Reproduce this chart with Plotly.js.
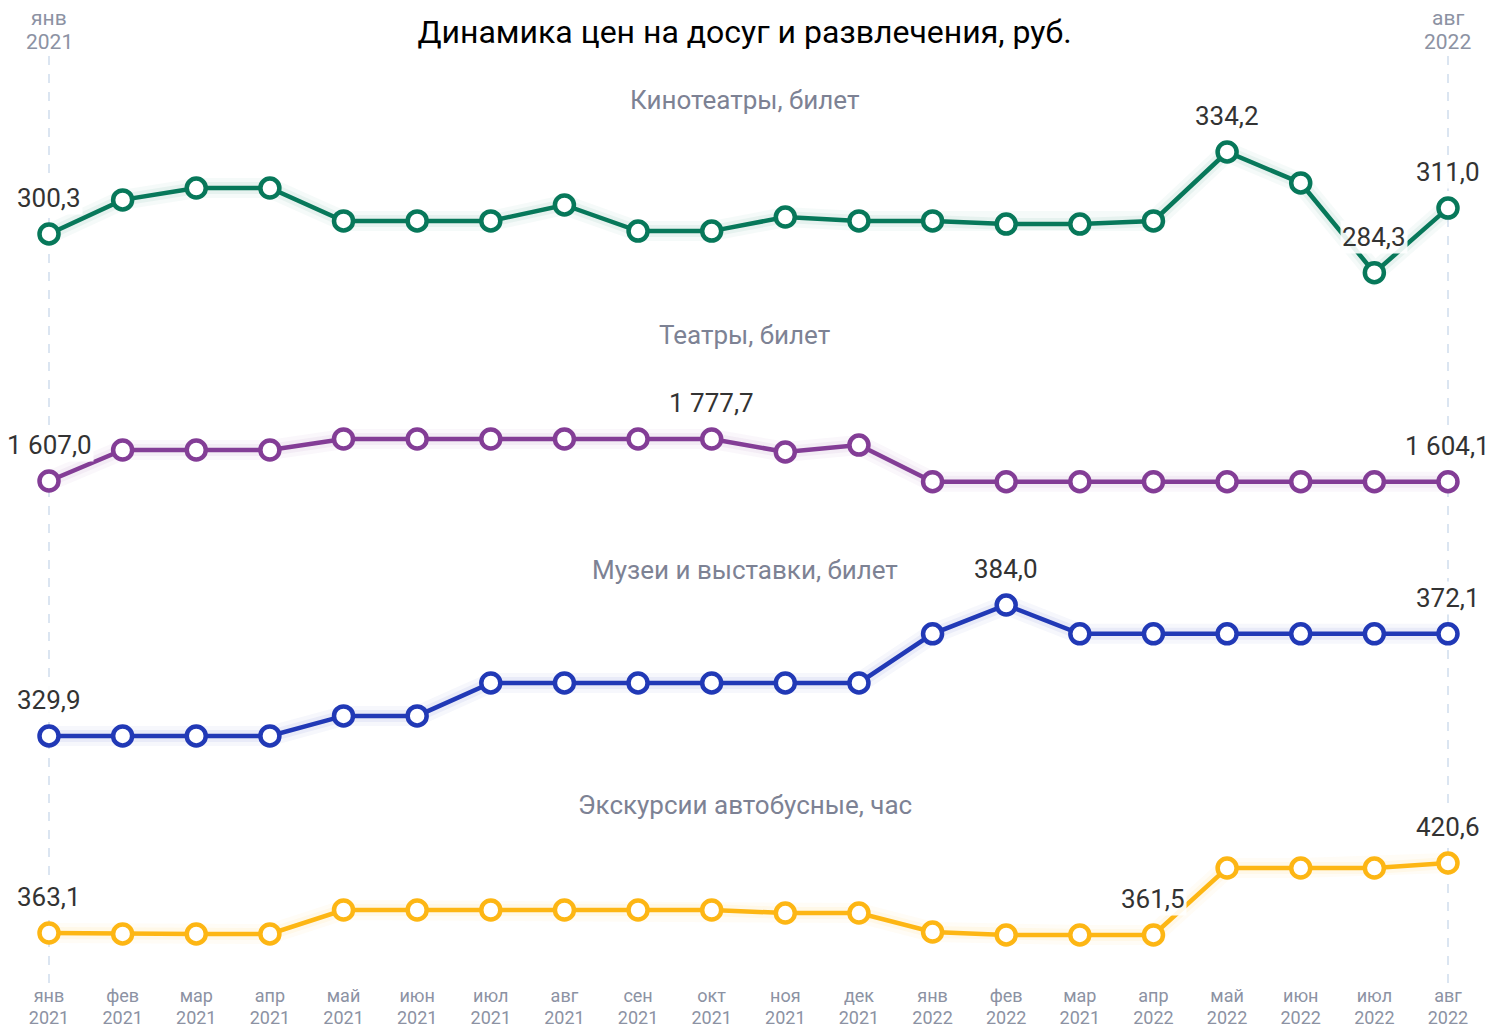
<!DOCTYPE html>
<html>
<head>
<meta charset="utf-8">
<script src="https://cdn.plot.ly/plotly-3.0.1.min.js"></script>
<style>html,body{margin:0;padding:0;background:#fff;}#chart{width:1489px;height:1031px;}</style>
</head>
<body>
<div id="chart"></div>
<script>
// ---- data ----
const months = ['янв','фев','мар','апр','май','июн','июл','авг','сен','окт','ноя','дек','янв','фев','мар','апр','май','июн','июл','авг'];
const years  = ['2021','2021','2021','2021','2021','2021','2021','2021','2021','2021','2021','2021','2022','2022','2021','2022','2022','2022','2022','2022'];

const seriesNames = ['Кинотеатры, билет','Театры, билет','Музеи и выставки, билет','Экскурсии автобусные, час'];

const cinema   = [300.3,314.4,319.3,319.3,305.7,305.7,305.7,312.3,301.5,301.5,307.3,305.7,305.7,304.4,304.4,305.7,334.2,321.4,284.3,311.0];
const theatre  = [1607.0,1733.0,1733.0,1733.0,1777.7,1777.7,1777.7,1777.7,1777.7,1777.7,1725.0,1753.0,1604.1,1604.1,1604.1,1604.1,1604.1,1604.1,1604.1,1604.1];
const museum   = [329.9,329.9,329.9,329.9,338.2,338.2,351.8,351.8,351.8,351.8,351.8,351.8,372.1,384.0,372.1,372.1,372.1,372.1,372.1,372.1];
const excursion= [363.1,362.3,362.3,362.3,382.0,382.0,382.0,382.0,382.0,382.0,379.5,379.5,363.9,361.5,361.5,361.5,416.5,416.5,416.5,420.6];

const cinemaLabels    = [0,16,18,19];
const theatreLabels   = [0,9,19];
const museumLabels    = [0,13,19];
const excursionLabels = [0,15,19];

// ---- styling ----
const allSeries = [cinema, theatre, museum, excursion];
const allLabels = [cinemaLabels, theatreLabels, museumLabels, excursionLabels];
const colors = ['#07785a','#833d96','#2139b6','#fdb614'];
const glowRGB = ['7,120,90','131,61,150','33,57,182','253,182,20'];
const yRanges = [[-4.37,397.03],[-384.5,3561.9],[232.83,633.9],[331.88,1129.7]];
const subtitleY = [100,335,570,805];
const PH = 971; // plot-area height in px

const x = months.map((m,i)=>i);
const fmt = v => {
  const s = v.toFixed(1).split('.');
  const int = s[0].replace(/\B(?=(\d{3})+(?!\d))/g,' ');
  return int + ',' + s[1];
};

const traces = [];
const annotations = [];
allSeries.forEach((ser,k)=>{
  const ya = k===0 ? 'y' : 'y'+(k+1);
  traces.push({x:x, y:ser, yaxis:ya, mode:'lines', line:{color:'rgba('+glowRGB[k]+',0.04)', width:20}, hoverinfo:'skip', showlegend:false});
  traces.push({x:x, y:ser, yaxis:ya, mode:'lines', line:{color:'rgba('+glowRGB[k]+',0.06)', width:12}, hoverinfo:'skip', showlegend:false});
  traces.push({x:x, y:ser, yaxis:ya, mode:'lines+markers', name:seriesNames[k],
    line:{color:colors[k], width:4.5},
    marker:{size:19, color:'#ffffff', line:{color:colors[k], width:4.5}},
    showlegend:false});
  allLabels[k].forEach(i=>{
    annotations.push({x:i, y:ser[i], xref:'x', yref:ya, text:fmt(ser[i]), showarrow:false,
      xanchor:'center', yanchor:'middle',
      yshift:36, font:{family:'Roboto', size:26, color:'#333333'},
      bgcolor:'rgba(255,255,255,0.9)', borderpad:1});
  });
  annotations.push({xref:'paper', yref:'paper', x:0.5, y:1-subtitleY[k]/PH, text:seriesNames[k],
    xanchor:'center', yanchor:'middle',
    showarrow:false, font:{family:'Roboto', size:26, color:'#7d8294'}});
});
// top date labels
[0,19].forEach(i=>{
  annotations.push({xref:'x', yref:'paper', x:i, y:1-18/PH, text:months[i], xanchor:'center', yanchor:'middle',
    showarrow:false, font:{family:'Roboto', size:21, color:'#8c92a3'}});
  annotations.push({xref:'x', yref:'paper', x:i, y:1-42/PH, text:years[i], xanchor:'center', yanchor:'middle',
    showarrow:false, font:{family:'Roboto', size:21, color:'#8c92a3'}});
});

const shapes = [0,19].map(i=>({type:'line', xref:'x', yref:'paper', x0:i, x1:i,
  y0:1-56/PH, y1:1-988/PH, line:{color:'#dbe5f1', width:2, dash:'dash'}, layer:'below'}));

const xr = [-0.6655,19.557];
const layout = {
  width:1489, height:1031,
  margin:{l:0, r:0, t:0, b:60},
  paper_bgcolor:'#ffffff', plot_bgcolor:'#ffffff',
  title:{text:'Динамика цен на досуг и развлечения, руб.', font:{family:'Roboto', size:32, color:'#000000'},
    x:0.5, xanchor:'center', y:1-32/1031, yanchor:'middle', yref:'container'},
  xaxis:{range:xr, tickvals:x, ticktext:months,
    showgrid:false, zeroline:false, showline:false, ticks:'', ticklabelstandoff:12,
    tickfont:{family:'Roboto', size:18, color:'#8c92a3'}},
  xaxis2:{range:xr, tickvals:x, ticktext:years, overlaying:'x', anchor:'y', side:'bottom',
    showgrid:false, zeroline:false, showline:false, ticks:'', ticklabelstandoff:34,
    tickfont:{family:'Roboto', size:18, color:'#8c92a3'}},
  yaxis:{range:yRanges[0], visible:false},
  yaxis2:{range:yRanges[1], visible:false, overlaying:'y'},
  yaxis3:{range:yRanges[2], visible:false, overlaying:'y'},
  yaxis4:{range:yRanges[3], visible:false, overlaying:'y'},
  annotations:annotations, shapes:shapes, showlegend:false
};
traces.push({x:x, y:x.map(()=>null), xaxis:'x2', yaxis:'y', mode:'lines', hoverinfo:'skip', showlegend:false});
Plotly.newPlot('chart', traces, layout, {displayModeBar:false, staticPlot:true});
</script>
</body>
</html>
